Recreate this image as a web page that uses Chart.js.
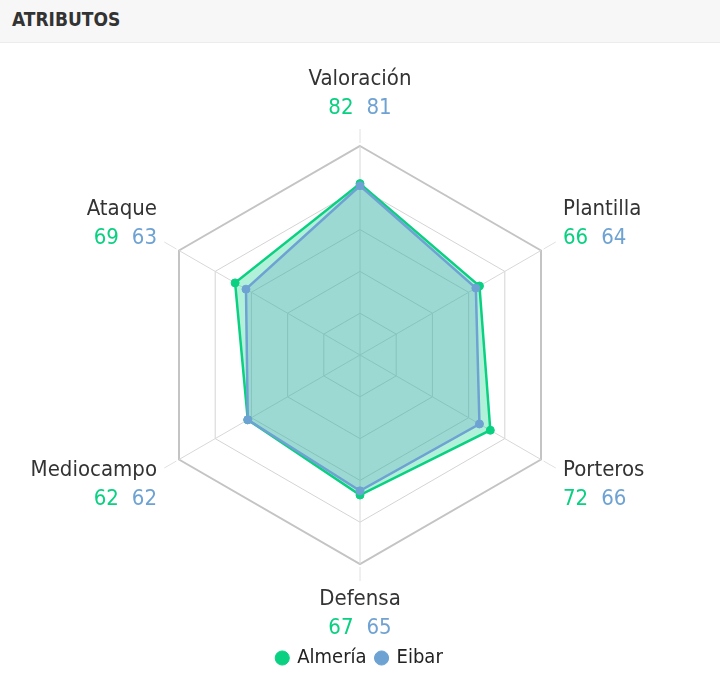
<!DOCTYPE html>
<html>
<head>
<meta charset="utf-8">
<script src="https://cdn.jsdelivr.net/npm/chart.js@4/dist/chart.umd.min.js"></script>
<style>
  body { margin: 0; background: #fff; width: 720px; height: 685px; overflow: hidden; }
  .head { height: 43px; box-sizing: border-box; background: #f7f7f7; border-bottom: 1px solid #ececec;
    padding: 8px 0 0 12px; font: bold 19px 'DejaVu Sans Condensed', sans-serif; color: #333; }
  .wrap { position: absolute; top: 43px; left: 0; width: 720px; height: 642px; }
</style>
</head>
<body>
<div class="head">ATRIBUTOS</div>
<div class="wrap"><canvas id="radar"></canvas></div>
<script>
const FONT = "'DejaVu Sans Condensed', sans-serif";

const attributes = ['Valoración', 'Plantilla', 'Porteros', 'Defensa', 'Mediocampo', 'Ataque'];
const teams = ['Almería', 'Eibar'];
const almeria = [82, 66, 72, 67, 62, 69];
const eibar = [81, 64, 66, 65, 62, 63];

const GREEN = '#0ad081';
const BLUE = '#6ea2d3';

// short spokes poking out past the outer ring
const spokeTips = {
  id: 'spokeTips',
  beforeDatasetsDraw(chart) {
    const s = chart.scales.r, ctx = chart.ctx;
    ctx.save();
    ctx.strokeStyle = '#e0e0e0';
    ctx.lineWidth = 1;
    attributes.forEach((_, i) => {
      const a = s.getPointPosition(i, s.drawingArea + 3);
      const b = s.getPointPosition(i, s.drawingArea + 17);
      ctx.beginPath(); ctx.moveTo(a.x, a.y); ctx.lineTo(b.x, b.y); ctx.stroke();
    });
    ctx.restore();
  }
};

// name on one line, both scores below it in team colours
const axisLabels = {
  id: 'axisLabels',
  afterDraw(chart) {
    const s = chart.scales.r, ctx = chart.ctx;
    ctx.save();
    ctx.font = '22px ' + FONT;
    ctx.textBaseline = 'alphabetic';
    attributes.forEach((name, i) => {
      const p = s.getPointPosition(i, s.drawingArea);
      const dx = p.x - s.xCenter, dy = p.y - s.yCenter;
      let align = 'center', x = p.x;
      if (dx > 5) { align = 'left'; x = p.x + 22; }
      if (dx < -5) { align = 'right'; x = p.x - 22; }
      let y1, y2;
      if (Math.abs(dx) <= 5) {
        if (dy < 0) { y1 = p.y - 61; y2 = p.y - 32; } else { y1 = p.y + 41; y2 = p.y + 70; }
      } else if (dy < 0) { y1 = p.y - 36; y2 = p.y - 7; } else { y1 = p.y + 16; y2 = p.y + 45; }

      ctx.fillStyle = '#333';
      ctx.textAlign = align;
      ctx.fillText(name, x, y1);

      const a = String(almeria[i]), b = String(eibar[i]), gap = 13;
      const wa = ctx.measureText(a).width, wb = ctx.measureText(b).width;
      const total = wa + gap + wb;
      let start = x;
      if (align === 'center') start = x - total / 2;
      if (align === 'right') start = x - total;
      ctx.textAlign = 'left';
      ctx.fillStyle = GREEN;
      ctx.fillText(a, start, y2);
      ctx.fillStyle = BLUE;
      ctx.fillText(b, start + wa + gap, y2);
    });
    ctx.restore();
  }
};

new Chart(document.getElementById('radar'), {
  type: 'radar',
  data: {
    labels: attributes,
    datasets: [
      { label: teams[0], data: almeria, order: 1, borderColor: GREEN, backgroundColor: 'rgba(0, 208, 130, 0.3)',
        pointBackgroundColor: GREEN, pointBorderColor: GREEN },
      { label: teams[1], data: eibar, order: 0, borderColor: BLUE, backgroundColor: 'rgba(105, 160, 195, 0.3)',
        pointBackgroundColor: BLUE, pointBorderColor: BLUE }
    ]
  },
  options: {
    responsive: true, maintainAspectRatio: false, animation: false,
    layout: { padding: { left: 151, right: 151, top: 29, bottom: 7 } },
    elements: {
      line: { borderWidth: 2.5, tension: 0 },
      point: { radius: 4, borderWidth: 1, hoverRadius: 4 }
    },
    plugins: {
      tooltip: { enabled: false },
      legend: {
        position: 'bottom',
        labels: { usePointStyle: true, pointStyle: 'circle', boxWidth: 10, boxHeight: 10,
          color: '#222', font: { family: FONT, size: 20 }, padding: 10,
          sort: (a, b) => a.datasetIndex - b.datasetIndex }
      }
    },
    scales: {
      r: {
        min: 0, max: 100,
        ticks: { display: false, stepSize: 20 },
        pointLabels: { display: false },
        angleLines: { color: '#d8d8d8', lineWidth: 1 },
        grid: {
          color: (c) => c.tick && c.tick.value === 100 ? '#c4c4c4' : '#d4d4d4',
          lineWidth: (c) => c.tick && c.tick.value === 100 ? 2 : 1
        }
      }
    }
  },
  plugins: [spokeTips, axisLabels]
});
</script>
</body>
</html>
